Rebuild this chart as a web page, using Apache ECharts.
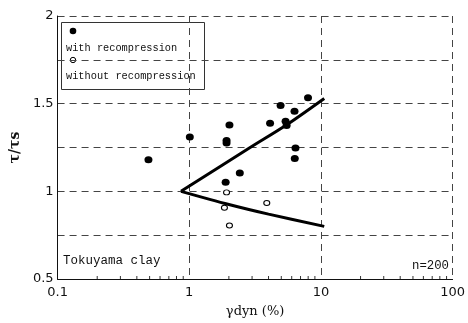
<!DOCTYPE html>
<html>
<head>
<meta charset="utf-8">
<script src="https://cdn.jsdelivr.net/npm/echarts@6/dist/echarts.min.js"></script>
<style>
  html, body { margin: 0; padding: 0; background: #fff; }
  #chart { width: 468px; height: 323px; }
</style>
</head>
<body>
<div id="chart"></div>
<script>
// τ/τs against γdyn, Tokuyama clay
const withRecomp = [
  [0.49, 1.18], [1.01, 1.31], [1.92, 1.29], [1.92, 1.275], [2.02, 1.378],
  [1.89, 1.052], [2.42, 1.105], [4.11, 1.389], [4.94, 1.49], [5.39, 1.40],
  [5.49, 1.375], [6.3, 1.457], [6.41, 1.247], [6.33, 1.187], [7.98, 1.534],
]
const withoutRecomp = [
  [1.92, 0.994], [1.85, 0.906], [3.88, 0.933], [2.02, 0.805],
]
const upperCurve = [[0.866, 1.0], [2.9, 1.25], [5.5, 1.38], [10.6, 1.53]]
const lowerCurve = [[0.866, 1.0], [2.0, 0.925], [4.0, 0.87], [10.6, 0.8]]
const xTicks = [0.1, 1, 10, 100]
const minorTicks = [0.2, 0.3, 0.4, 0.5, 0.6, 0.7, 0.8, 0.9, 2, 3, 4, 5, 6, 7, 8, 9, 20, 30, 40, 50, 60, 70, 80, 90]

const mono = 'Liberation Mono'
const grid = { left: 57, right: 12, top: 16, bottom: 40 }
const dash = { color: '#444', width: 1, type: [7, 5] }

const chart = echarts.init(document.getElementById('chart'))
chart.setOption({
  animation: false,
  grid,
  xAxis: {
    type: 'log', logBase: 10, min: 0.1, max: 100,
    name: 'γdyn (%)', nameLocation: 'middle', nameGap: 26,
    nameTextStyle: { color: '#111', fontSize: 13, fontFamily: 'DejaVu Serif' },
    axisLine: { lineStyle: { color: '#111', width: 1 } },
    axisTick: { show: false },
    axisLabel: {
      color: '#111', fontSize: 13, fontFamily: 'DejaVu Sans', margin: 7,
      formatter: v => xTicks.includes(+v) ? String(v) : '',
    },
    splitLine: { show: true, lineStyle: dash },
  },
  yAxis: {
    type: 'value', min: 0.5, max: 2, interval: 0.25,
    name: 'τ/τs', nameLocation: 'middle', nameGap: 32, nameRotate: 90,
    nameTextStyle: { color: '#111', fontSize: 14, fontFamily: 'DejaVu Serif', fontWeight: 'bold' },
    axisLine: { show: true, lineStyle: { color: '#111', width: 1 } },
    axisTick: { show: false },
    axisLabel: {
      color: '#111', fontSize: 13, fontFamily: 'DejaVu Sans', margin: 4,
      formatter: v => (Math.abs(v * 2 - Math.round(v * 2)) < 1e-6 ? String(v) : ''),
    },
    splitLine: { show: true, lineStyle: dash },
  },
  series: [
    {
      type: 'scatter', data: withRecomp, symbol: 'circle', symbolSize: [8, 7],
      itemStyle: { color: '#000', opacity: 1 },
    },
    {
      type: 'scatter', data: withoutRecomp, symbol: 'circle', symbolSize: [6, 5],
      itemStyle: { color: '#fff', borderColor: '#000', borderWidth: 1, opacity: 1 },
    },
    {
      type: 'line', data: upperCurve, showSymbol: false, smooth: 0.3,
      lineStyle: { color: '#000', width: 3 },
    },
    {
      type: 'line', data: lowerCurve, showSymbol: false, smooth: 0.3,
      lineStyle: { color: '#000', width: 3 },
    },
    {
      // log minor ticks along the bottom axis
      type: 'custom', silent: true,
      data: minorTicks.map(v => [v, 0.5]),
      renderItem: (params, api) => {
        const p = api.coord([api.value(0), api.value(1)])
        return {
          type: 'line',
          shape: { x1: p[0], y1: p[1], x2: p[0], y2: p[1] - 3 },
          style: { stroke: '#333', lineWidth: 1 },
        }
      },
    },
  ],
  graphic: [
    {
      type: 'rect', left: 61, top: 22,
      shape: { width: 143, height: 67 },
      style: { fill: '#fff', stroke: '#333', lineWidth: 1 },
    },
    { type: 'circle', shape: { cx: 73, cy: 31, r: 3.3 }, style: { fill: '#000' } },
    {
      type: 'text', left: 66, top: 43,
      style: { text: 'with recompression', font: '10.3px ' + mono, fill: '#111' },
    },
    { type: 'circle', shape: { cx: 73, cy: 60, r: 2.7 }, style: { fill: '#fff', stroke: '#000', lineWidth: 1 } },
    {
      type: 'text', left: 66, top: 71,
      style: { text: 'without recompression', font: '10.3px ' + mono, fill: '#111' },
    },
    {
      type: 'text', left: 63, top: 254,
      style: { text: 'Tokuyama clay', font: '12.5px ' + mono, fill: '#111' },
    },
    {
      type: 'text', left: 412, top: 260,
      style: { text: 'n=200', font: '12.3px ' + mono, fill: '#111' },
    },
  ],
})
</script>
</body>
</html>
